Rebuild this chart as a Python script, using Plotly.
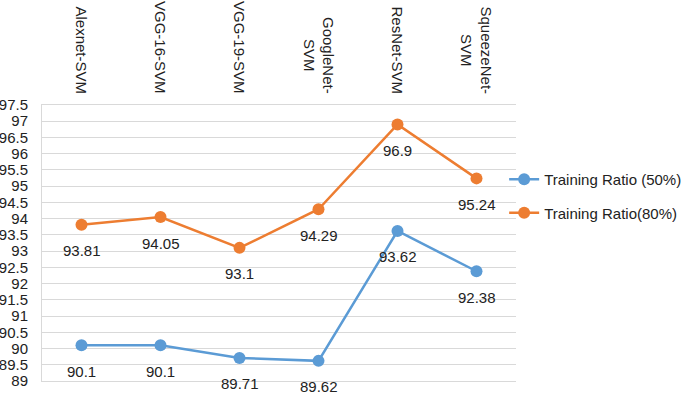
import plotly.graph_objects as go

categories = ["Alexnet-SVM", "VGG-16-SVM", "VGG-19-SVM", "GoogleNet-<br>SVM", "ResNet-SVM", "SqueezeNet-<br>SVM"]
ratio50 = [90.1, 90.1, 89.71, 89.62, 93.62, 92.38]
ratio80 = [93.81, 94.05, 93.1, 94.29, 96.9, 95.24]
series_names = ["Training Ratio (50%)", "Training Ratio(80%)"]
colors = ["#5B9BD5", "#ED7D31"]

FONT = "Liberation Sans"
TXT = "#222222"
x_idx = list(range(len(categories)))

fig = go.Figure()
annotations = []
for i, (name, vals) in enumerate(zip(series_names, [ratio50, ratio80])):
    fig.add_trace(go.Scatter(
        x=x_idx, y=vals, mode="lines+markers", name=name,
        legendgroup=f"g{i}",
        line=dict(color=colors[i], width=2.5),
        marker=dict(color=colors[i], size=12),
        cliponaxis=False,
    ))
    for xi, v in zip(x_idx, vals):
        annotations.append(dict(
            x=xi, y=v, xref="x", yref="y", text=f"{v:g}", showarrow=False,
            yshift=-26, font=dict(family=FONT, size=15, color=TXT),
        ))

# category labels along the top, rotated, centred multi-line
for xi, cat in zip(x_idx, categories):
    annotations.append(dict(
        x=xi, y=1, xref="x", yref="paper", text=cat, showarrow=False,
        textangle=90, xanchor="center", yanchor="bottom", align="center",
        yshift=9, font=dict(family=FONT, size=15, color=TXT),
    ))

fig.update_layout(
    width=685, height=399,
    margin=dict(l=42, r=169, t=105, b=18, autoexpand=False),
    paper_bgcolor="white", plot_bgcolor="white",
    font=dict(family=FONT, size=15, color=TXT),
    annotations=annotations,
    showlegend=True,
    legend=dict(
        x=0.975, y=0.67, xanchor="left", yanchor="middle",
        font=dict(family=FONT, size=15, color=TXT),
        traceorder="grouped", tracegroupgap=11,
        bgcolor="rgba(0,0,0,0)",
    ),
)
fig.update_xaxes(
    tickmode="array", tickvals=x_idx, ticktext=["" for _ in categories],
    range=[-0.5, len(categories) - 0.5],
    showgrid=False, zeroline=False, showline=True, mirror=True,
    linecolor="#d9d9d9", linewidth=1, ticks="", automargin=False,
)
fig.update_yaxes(
    range=[89, 97.5], dtick=0.5, tick0=89,
    showgrid=True, gridcolor="#d9d9d9", gridwidth=1,
    zeroline=False, showline=True, linecolor="#d9d9d9", linewidth=1,
    ticks="", tickfont=dict(family=FONT, size=15, color=TXT),
    ticklabelstandoff=10, automargin=False,
)

fig.write_html(
    "out.html",
    config={"displayModeBar": False},
    post_script="document.body.style.margin='0';document.body.style.padding='0';",
)
